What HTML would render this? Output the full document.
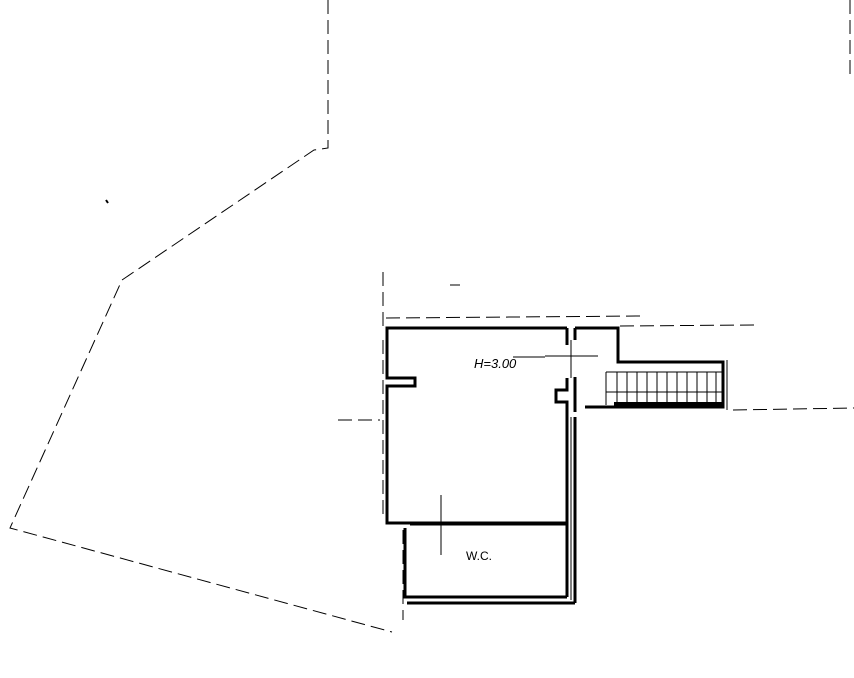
<!DOCTYPE html>
<html><head><style>body{margin:0;background:#fff}svg{display:block}</style></head><body>
<svg width="854" height="678" viewBox="0 0 854 678" xmlns="http://www.w3.org/2000/svg">
<g fill="none" stroke="#000" stroke-width="1" stroke-dasharray="14,6">
<polyline points="328,0 328,148 314,150 122,280 10,528 392,632"/>
<line x1="383" y1="272" x2="383" y2="330"/>
<line x1="386" y1="318" x2="642" y2="316"/>
<line x1="620" y1="326" x2="754" y2="325"/>
<line x1="733" y1="410" x2="854" y2="408"/>
<line x1="338" y1="420" x2="380" y2="420"/>
<line x1="383" y1="340" x2="383" y2="520"/>
<line x1="403" y1="530" x2="403" y2="620"/>
<line x1="850" y1="0" x2="850" y2="80"/>
</g>
<line x1="450" y1="285" x2="460" y2="285" stroke="#000"/>
<line x1="106" y1="200" x2="108" y2="203" stroke="#000" stroke-width="2"/>
<g fill="none" stroke="#000" stroke-width="3">
<polyline points="567,328 387,328 387,378 415,378 415,386 387,386 387,523 567,523"/>
<polyline points="567,328 567,345"/>
<polyline points="575,328 575,340"/>
<polyline points="567,378 567,390 556,390 556,402 567,402 567,417"/>
<polyline points="575,377 575,412"/>
<polyline points="575,328 618,328 618,362 723,362 723,407 585,407"/>
<line x1="567" y1="417" x2="567" y2="597"/>
<line x1="575" y1="417" x2="575" y2="603"/>
<polyline points="405,528 405,597 567,597"/>
<polyline points="407,603 575,603"/>
<line x1="410" y1="524" x2="567" y2="524"/>
</g>
<rect x="614" y="402" width="110" height="6" fill="#000"/>
<g stroke="#000" stroke-width="1">
<line x1="571" y1="340" x2="571" y2="378"/>
<line x1="571" y1="417" x2="571" y2="600"/>
<line x1="545" y1="356" x2="598" y2="356"/>
<line x1="513" y1="357" x2="545" y2="357"/>
<line x1="441" y1="495" x2="441" y2="555"/>
<line x1="606" y1="372" x2="723" y2="372"/>
<line x1="606" y1="372" x2="606" y2="405"/>
<g>
<line x1="617" y1="372" x2="617" y2="404"/><line x1="627" y1="372" x2="627" y2="404"/>
<line x1="637" y1="372" x2="637" y2="404"/><line x1="647" y1="372" x2="647" y2="404"/>
<line x1="657" y1="372" x2="657" y2="404"/><line x1="667" y1="372" x2="667" y2="404"/>
<line x1="677" y1="372" x2="677" y2="404"/><line x1="687" y1="372" x2="687" y2="404"/>
<line x1="697" y1="372" x2="697" y2="404"/><line x1="707" y1="372" x2="707" y2="404"/>
<line x1="716" y1="372" x2="716" y2="404"/>
<line x1="606" y1="392" x2="723" y2="392"/>
</g>
<line x1="727" y1="360" x2="727" y2="410"/>
</g>
<text x="474" y="368" font-family="Liberation Sans, sans-serif" font-size="13" font-style="italic">H=3.00</text>
<text x="466" y="560" font-family="Liberation Sans, sans-serif" font-size="12">W.C.</text>
</svg>
</body></html>
